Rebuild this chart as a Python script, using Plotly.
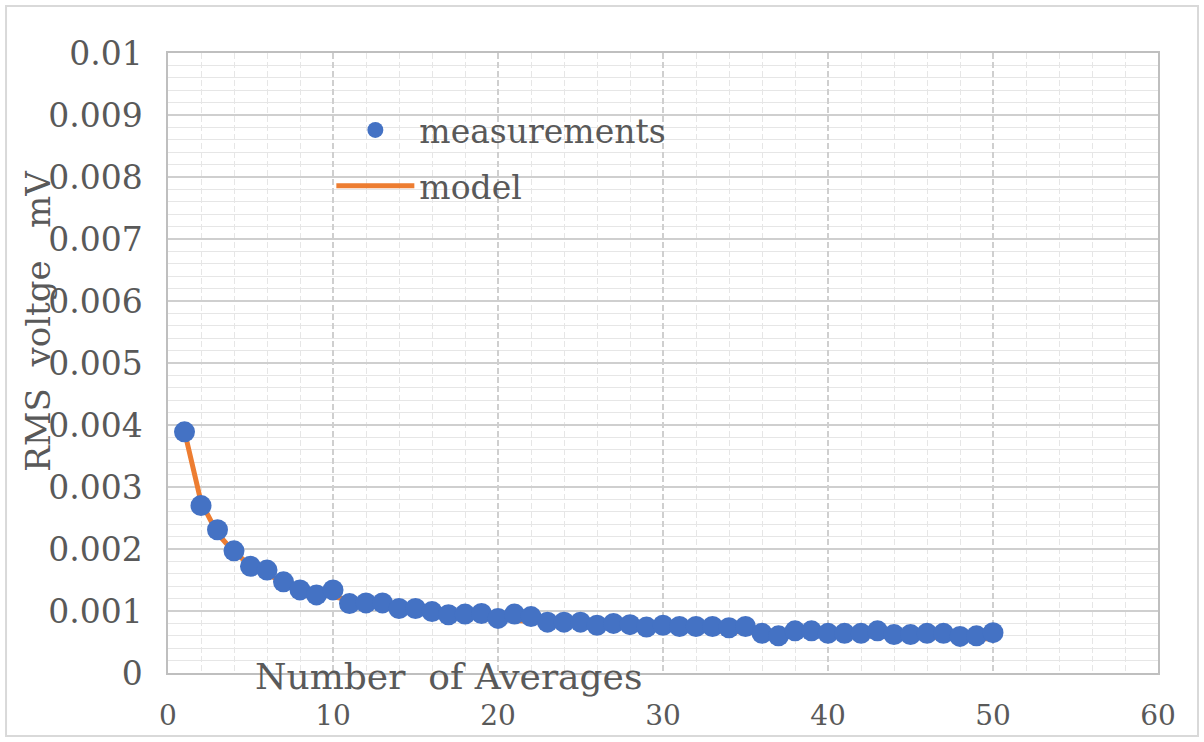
import plotly.graph_objects as go

# Number of averages
n_averages = list(range(1, 51))

# Measured RMS voltage (mV)
measurements = [
    0.00389, 0.00270, 0.00231, 0.00197, 0.00172, 0.00166, 0.00147, 0.00134, 0.00126, 0.00134,
    0.00112, 0.00113, 0.00113, 0.00104, 0.00104, 0.00099, 0.00094, 0.00095, 0.00096, 0.00088,
    0.00095, 0.00091, 0.00082, 0.00082, 0.00082, 0.00077, 0.00080, 0.00078, 0.00074, 0.00077,
    0.00075, 0.00075, 0.00075, 0.00073, 0.00075, 0.00064, 0.00060, 0.00068, 0.00068, 0.00064,
    0.00064, 0.00064, 0.00068, 0.00062, 0.00062, 0.00064, 0.00064, 0.00059, 0.00060, 0.00065,
]

# Model RMS voltage (mV)
model = [
    0.00390, 0.00276, 0.00225, 0.00195, 0.00174, 0.00159, 0.00147, 0.00138, 0.00130, 0.00123,
    0.00118, 0.00113, 0.00108, 0.00104, 0.00101, 0.00098, 0.00095, 0.00092, 0.00089, 0.00087,
    0.00085, 0.00083, 0.00081, 0.00080, 0.00078, 0.00076, 0.00075, 0.00074, 0.00072, 0.00071,
    0.00070, 0.00069, 0.00068, 0.00067, 0.00066, 0.00065, 0.00064, 0.00063, 0.00062, 0.00062,
    0.00061, 0.00060, 0.00059, 0.00059, 0.00058, 0.00058, 0.00057, 0.00056, 0.00056, 0.00055,
]

x_tick_vals = [0, 10, 20, 30, 40, 50, 60]
y_tick_vals = [0, 0.001, 0.002, 0.003, 0.004, 0.005, 0.006, 0.007, 0.008, 0.009, 0.01]
y_tick_labels = ["0", "0.001", "0.002", "0.003", "0.004", "0.005",
                 "0.006", "0.007", "0.008", "0.009", "0.01"]

BLUE = "#4472C4"
ORANGE = "#ED7D31"
TEXT = "#595959"
SERIF = "DejaVu Serif"

fig = go.Figure()
fig.add_trace(go.Scatter(
    x=n_averages, y=model, mode="lines", name="model",
    line=dict(color=ORANGE, width=5), legendgroup="b", legendrank=2,
))
fig.add_trace(go.Scatter(
    x=n_averages, y=measurements, mode="markers", name="measurements",
    marker=dict(color=BLUE, size=21, line=dict(width=0)),
    legendgroup="a", legendrank=1,
))

grid_major = "#cfcfcf"
grid_minor = "#e6e6e6"

fig.update_layout(
    width=1204, height=742,
    margin=dict(l=168, r=46, t=53, b=69, autoexpand=False),
    paper_bgcolor="white", plot_bgcolor="white",
    showlegend=True,
    legend=dict(
        x=0.165, y=0.921, xanchor="left", yanchor="top",
        bgcolor="rgba(0,0,0,0)", font=dict(family=SERIF, size=33, color=TEXT),
        tracegroupgap=10, itemsizing="trace", itemwidth=78,
    ),
    xaxis=dict(
        range=[0, 60], tickvals=x_tick_vals, showgrid=True, automargin=False,
        gridcolor=grid_major, gridwidth=1.5, griddash="6px,3px",
        minor=dict(dtick=2, showgrid=True, gridcolor=grid_minor, gridwidth=1),
        showline=True, linecolor="#bfbfbf", linewidth=1.5, mirror=True,
        zeroline=False, ticks="",
        tickfont=dict(family=SERIF, size=28, color=TEXT),
        ticklabelstandoff=17,
    ),
    yaxis=dict(
        range=[0, 0.01], tickvals=y_tick_vals, ticktext=y_tick_labels,
        showgrid=True, gridcolor=grid_major, gridwidth=1.5, automargin=False,
        minor=dict(dtick=0.0002, showgrid=True, gridcolor=grid_minor, gridwidth=1),
        showline=True, linecolor="#bfbfbf", linewidth=1.5, mirror=True,
        zeroline=False, ticks="",
        tickfont=dict(family=SERIF, size=33, color=TEXT),
        ticklabelstandoff=17,
    ),
    annotations=[
        dict(text="Number  of Averages", xref="paper", yref="paper",
             x=0.2838, y=-0.005, xanchor="center", yanchor="middle", showarrow=False,
             font=dict(family=SERIF, size=36, color=TEXT)),
        dict(text="RMS  voltge   mV", xref="paper", yref="paper",
             x=-0.1313, y=0.568, xanchor="center", yanchor="middle",
             showarrow=False, textangle=-90,
             font=dict(family=SERIF, size=34, color=TEXT)),
    ],
    shapes=[
        dict(type="rect", xref="paper", yref="paper",
             x0=-0.1636, x1=1.0404, y0=-0.1016, y1=1.0758,
             line=dict(color="#d9d9d9", width=2), layer="below"),
    ],
)

fig.write_html("out.html")
